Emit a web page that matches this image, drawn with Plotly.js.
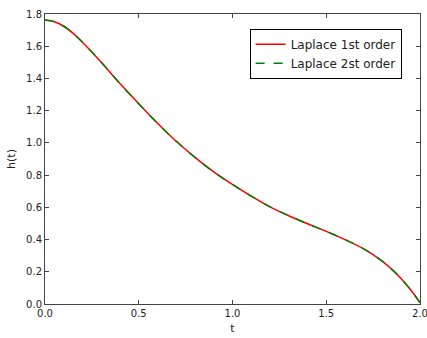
<!DOCTYPE html>
<html>
<head>
<meta charset="utf-8">
<script src="https://cdn.plot.ly/plotly-3.0.1.min.js"></script>
<style>html,body{margin:0;padding:0;background:#fff;}#chart{width:427px;height:338px;}</style>
</head>
<body>
<div id="chart"></div>
<script>
var t = [0.0,0.05,0.1,0.15,0.2,0.3,0.4,0.5,0.6,0.7,0.8,0.9,1.0,1.1,1.2,1.3,1.4,1.5,1.6,1.7,1.8,1.85,1.9,1.95,2.0];
var hFirst = [1.762,1.752,1.724,1.680,1.625,1.500,1.368,1.243,1.122,1.010,0.910,0.820,0.742,0.669,0.603,0.548,0.498,0.451,0.400,0.342,0.265,0.215,0.157,0.088,0.008];
var hSecond = [1.762,1.752,1.724,1.680,1.625,1.500,1.368,1.243,1.122,1.010,0.910,0.820,0.742,0.669,0.603,0.548,0.498,0.451,0.400,0.342,0.265,0.215,0.157,0.088,0.008];
var xTicks = [0, 0.5, 1.0, 1.5, 2.0];
var xTickText = ['0.0','0.5','1.0','1.5','2.0'];
var yTicks = [0,0.2,0.4,0.6,0.8,1.0,1.2,1.4,1.6,1.8];
var yTickText = ['0.0','0.2','0.4','0.6','0.8','1.0','1.2','1.4','1.6','1.8'];

var font = {family: 'DejaVu Sans', size: 10, color: '#222'};
var traces = [
  {x: t, y: hFirst, mode: 'lines', name: 'Laplace 1st order',
   line: {color: '#ff0000', width: 1.5, shape: 'spline', smoothing: 1}},
  {x: t, y: hSecond, mode: 'lines', name: 'Laplace 2st order',
   line: {color: '#008000', width: 1.5, dash: 'dash', shape: 'spline', smoothing: 1}}
];
var axisCommon = {
  showgrid: false, zeroline: false, showline: true, linecolor: '#444', linewidth: 1,
  mirror: 'ticks', ticks: 'inside', ticklen: 4, tickcolor: '#444', tickwidth: 1,
  tickfont: font, ticklabeloverflow: 'allow'
};
var layout = {
  width: 427, height: 338,
  margin: {l: 45, r: 7, t: 14, b: 34},
  paper_bgcolor: '#fff', plot_bgcolor: '#fff',
  font: font,
  showlegend: true,
  legend: {x: 0.951, y: 0.949, xanchor: 'right', yanchor: 'top',
    bordercolor: '#000', borderwidth: 1, bgcolor: '#fff',
    font: {family: 'DejaVu Sans', size: 12, color: '#222'}, itemwidth: 30,
    tracegroupgap: 0},
  xaxis: Object.assign({}, axisCommon, {range: [0, 2], tickvals: xTicks, ticktext: xTickText,
    title: {text: 't', font: {family: 'DejaVu Sans', size: 11, color: '#222'}, standoff: 6}}),
  yaxis: Object.assign({}, axisCommon, {range: [0, 1.8], tickvals: yTicks, ticktext: yTickText,
    title: {text: 'h(t)', font: {family: 'DejaVu Sans', size: 11, color: '#222'}, standoff: 8}})
};
Plotly.newPlot('chart', traces, layout, {staticPlot: true, displayModeBar: false});
</script>
</body>
</html>
